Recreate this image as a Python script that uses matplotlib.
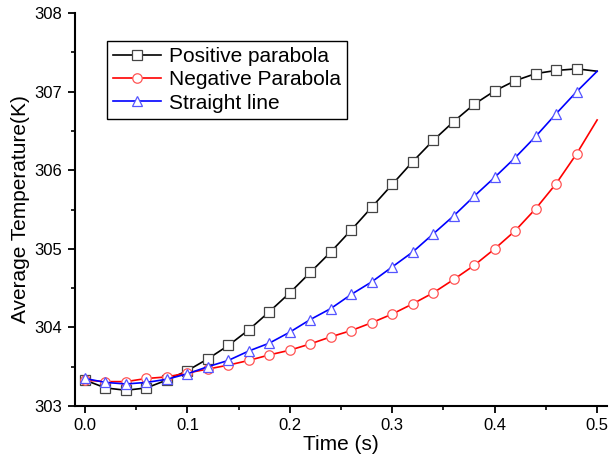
import numpy as np
import matplotlib
matplotlib.use("Agg")
import matplotlib.pyplot as plt
from matplotlib.ticker import MultipleLocator

plt.rcParams['font.family'] = ['Liberation Sans', 'DejaVu Sans']

# Time samples (s)
time_s = [0.00, 0.02, 0.04, 0.06, 0.08, 0.10, 0.12, 0.14, 0.16, 0.18,
          0.20, 0.22, 0.24, 0.26, 0.28, 0.30, 0.32, 0.34, 0.36, 0.38,
          0.40, 0.42, 0.44, 0.46, 0.48, 0.50]

# Average temperature (K) for each heating profile
positive_parabola = [303.33, 303.23, 303.20, 303.23, 303.33, 303.45, 303.60, 303.77,
                     303.97, 304.20, 304.44, 304.70, 304.96, 305.24, 305.53, 305.82,
                     306.11, 306.38, 306.62, 306.84, 307.01, 307.14, 307.23, 307.27,
                     307.29, 307.26]
negative_parabola = [303.33, 303.31, 303.31, 303.35, 303.37, 303.42, 303.47, 303.52,
                     303.58, 303.65, 303.71, 303.79, 303.88, 303.96, 304.06, 304.17,
                     304.30, 304.44, 304.61, 304.79, 305.00, 305.23, 305.51, 305.83,
                     306.21, 306.64]
straight_line = [303.35, 303.30, 303.28, 303.30, 303.34, 303.41, 303.50, 303.58,
                 303.70, 303.80, 303.94, 304.10, 304.24, 304.42, 304.58, 304.77,
                 304.96, 305.19, 305.42, 305.67, 305.91, 306.16, 306.43, 306.72,
                 307.00, 307.26]

series = [
    ("Positive parabola", positive_parabola, "black", "s", 6.8, "#444444"),
    ("Negative Parabola", negative_parabola, "#ff0000", "o", 6.8, "#ff5555"),
    ("Straight line", straight_line, "#0000ff", "^", 7.8, "#5555ff"),
]

fig = plt.figure(figsize=(6.09, 4.59), dpi=100)
ax = fig.add_axes([0.123, 0.1155, 0.874, 0.856])

for label, vals, color, marker, ms, edge in series:
    ax.plot(time_s, vals, color=color, lw=1.2, marker=marker, ms=ms,
            mfc="white", mec=edge, mew=0.9, markevery=slice(0, len(vals) - 1),
            label=label)

ax.set_xlim(-0.0098, 0.5098)
ax.set_ylim(303, 308)
ax.xaxis.set_major_locator(MultipleLocator(0.1))
ax.xaxis.set_minor_locator(MultipleLocator(0.05))
ax.yaxis.set_major_locator(MultipleLocator(1))
ax.yaxis.set_minor_locator(MultipleLocator(0.5))
ax.set_xticks([0.0, 0.1, 0.2, 0.3, 0.4, 0.5])
ax.set_xticklabels(["0.0", "0.1", "0.2", "0.3", "0.4", "0.5"])

for side in ("top", "right"):
    ax.spines[side].set_visible(False)
for side in ("left", "bottom"):
    ax.spines[side].set_linewidth(1.5)

ax.tick_params(which="major", direction="out", length=5, width=1.3,
               labelsize=12, pad=4)
ax.tick_params(which="minor", direction="out", length=3, width=1.2)

ax.set_xlabel("Time (s)", fontsize=15, labelpad=1)
ax.set_ylabel("Average Temperature(K)", fontsize=15, labelpad=3)

leg = ax.legend(loc="upper left", bbox_to_anchor=(0.0596, 0.929), borderaxespad=0,
                fontsize=15, frameon=True, fancybox=False, framealpha=1,
                edgecolor="black", handlelength=2.3, handletextpad=0.4,
                labelspacing=0.2, borderpad=0.3)
leg.get_frame().set_linewidth(1.0)

fig.savefig("out.png", dpi=100)
